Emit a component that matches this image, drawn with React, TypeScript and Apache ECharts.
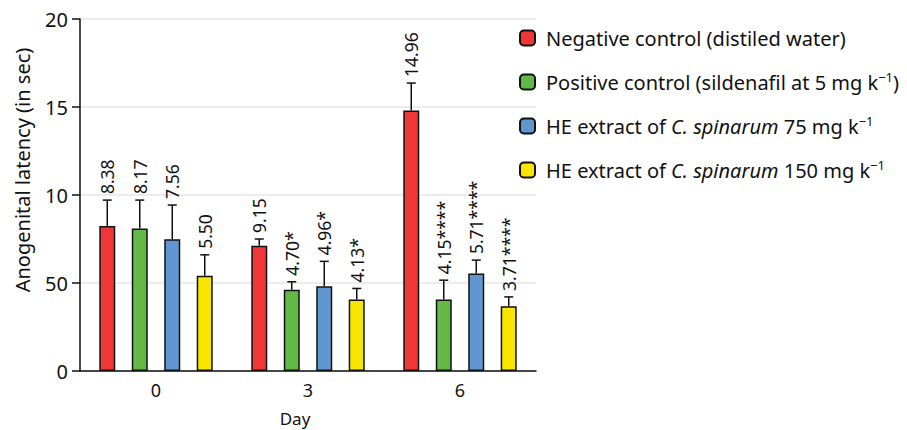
import React, { useEffect, useRef } from "react";
import * as echarts from "echarts";

// ---- data ----
const days = ["0", "3", "6"];
const seriesNames = [
  "Negative control (distiled water)",
  "Positive control (sildenafil at 5 mg k−1)",
  "HE extract of C. spinarum 75 mg k−1",
  "HE extract of C. spinarum 150 mg k−1",
];
const negMeans = [8.24, 7.11, 14.8];
const posMeans = [8.1, 4.61, 4.06];
const he75Means = [7.48, 4.82, 5.54];
const he150Means = [5.41, 4.06, 3.68];

const negErr = [1.47, 0.39, 1.56];
const posErr = [1.61, 0.46, 1.1];
const he75Err = [1.95, 1.41, 0.76];
const he150Err = [1.19, 0.63, 0.53];

const negLabels = ["8.38", "9.15", "14.96"];
const posLabels = ["8.17", "4.70*", "4.15****"];
const he75Labels = ["7.56", "4.96*", "5.71****"];
const he150Labels = ["5.50", "4.13*", "3.71****"];

const yTickLabels = ["0", "50", "10", "15", "20"];

const legendRichTexts = [
  "{f|Negative control (distiled water)}",
  "{f|Positive control (sildenafil at 5 mg k}{s|−1}{n|)}",
  "{f|HE extract of }{i|C. spinarum}{n| 75 mg k}{s|−1}",
  "{f|HE extract of }{i|C. spinarum}{n| 150 mg k}{s|−1}",
];

const colors = ["#ef3737", "#63b946", "#6197d0", "#f6e600"];

const FONT = "Noto Sans";
const BAR_W = 16;
const SPACING = 32.5;

export default function App() {
  const ref = useRef<HTMLDivElement>(null);
  useEffect(() => {
    if (!ref.current) return;
    const chart = echarts.init(ref.current, null, { renderer: "svg" });
    const means = [negMeans, posMeans, he75Means, he150Means];
    const errs = [negErr, posErr, he75Err, he150Err];
    const labels = [negLabels, posLabels, he75Labels, he150Labels];

    const errData: number[][] = [];
    const errLabels: string[] = [];
    for (let g = 0; g < 4; g++) {
      for (let d = 0; d < days.length; d++) {
        errData.push([d, g, means[g][d] + errs[g][d], means[g][d]]);
        errLabels.push(labels[g][d]);
      }
    }

    const barSeries = seriesNames.map((name, i) => ({
      name,
      type: "bar",
      data: means[i],
      barWidth: BAR_W,
      barGap: "103%",
      itemStyle: { color: colors[i], borderColor: "#111", borderWidth: 1.5 },
      z: 2,
    }));

    const txt = { fontSize: 20, fontFamily: FONT, color: "#111", lineHeight: 24 };

    chart.setOption({
      animation: false,
      textStyle: { fontFamily: FONT },
      grid: { left: 80, top: 19, bottom: 59, width: 456, containLabel: false, outerBoundsMode: "none" },
      legend: {
        orient: "vertical",
        left: 514,
        top: 21,
        itemWidth: 15,
        itemHeight: 15,
        itemGap: 20,
        data: seriesNames,
        formatter: (name: string) => legendRichTexts[seriesNames.indexOf(name)],
        textStyle: {
          ...txt,
          rich: {
            f: { ...txt, padding: [0, 0, 0, 6] },
            n: { ...txt },
            i: { ...txt, fontStyle: "italic" },
            s: { fontSize: 13, fontFamily: FONT, color: "#111", lineHeight: 24, verticalAlign: "top", padding: [0, 0, 2, 0] },
          },
        },
      },
      xAxis: {
        type: "category",
        data: days,
        axisLine: { lineStyle: { color: "#111", width: 1.5 } },
        axisTick: { alignWithLabel: true, length: 6, lineStyle: { color: "#111", width: 1.5 } },
        axisLabel: { fontSize: 18, color: "#111", margin: 10, fontFamily: FONT },
      },
      yAxis: {
        type: "value",
        min: 0,
        max: 20,
        interval: 5,
        axisLine: { show: true, lineStyle: { color: "#111", width: 1.5 } },
        axisTick: { show: true, length: 8, lineStyle: { color: "#111", width: 1.5 } },
        axisLabel: {
          fontSize: 20,
          color: "#111",
          margin: 12,
          fontFamily: FONT,
          formatter: (v: number) => yTickLabels[Math.round(v / 5)],
        },
        splitLine: { lineStyle: { color: "#e6e6e6", width: 1.5 } },
      },
      graphic: [
        {
          type: "text",
          x: 22,
          y: 170,
          rotation: Math.PI / 2,
          style: {
            text: "Anogenital latency (in sec)",
            fontSize: 20,
            fontFamily: FONT,
            fill: "#111",
            align: "center",
            verticalAlign: "middle",
          },
        },
        {
          type: "text",
          x: 295,
          y: 418,
          style: {
            text: "Day",
            fontSize: 17,
            fontFamily: FONT,
            fill: "#111",
            align: "center",
            verticalAlign: "middle",
          },
        },
      ],
      series: [
        ...barSeries,
        {
          type: "custom",
          name: "errors",
          z: 5,
          data: errData,
          renderItem: (params: any, api: any) => {
            const cat = api.value(0);
            const grp = api.value(1);
            const top = api.coord([cat, api.value(2)]);
            const bottom = api.coord([cat, api.value(3)]);
            const x = top[0] + (grp - 1.5) * SPACING;
            const ls = { stroke: "#111", lineWidth: 1.5 };
            return {
              type: "group",
              children: [
                { type: "line", shape: { x1: x, y1: bottom[1], x2: x, y2: top[1] }, style: ls },
                { type: "line", shape: { x1: x - 4.5, y1: top[1], x2: x + 4.5, y2: top[1] }, style: ls },
                {
                  type: "text",
                  x: x,
                  y: top[1] - 6,
                  rotation: Math.PI / 2,
                  style: {
                    text: errLabels[params.dataIndex],
                    fontSize: 17.5,
                    fontFamily: FONT,
                    fill: "#111",
                    align: "left",
                    verticalAlign: "middle",
                  },
                },
              ],
            };
          },
        },
      ],
    });
    return () => chart.dispose();
  }, []);
  return (
    <div
      ref={ref}
      style={{ position: "fixed", left: 0, top: 0, width: 907, height: 430, background: "#fff" }}
    />
  );
}
